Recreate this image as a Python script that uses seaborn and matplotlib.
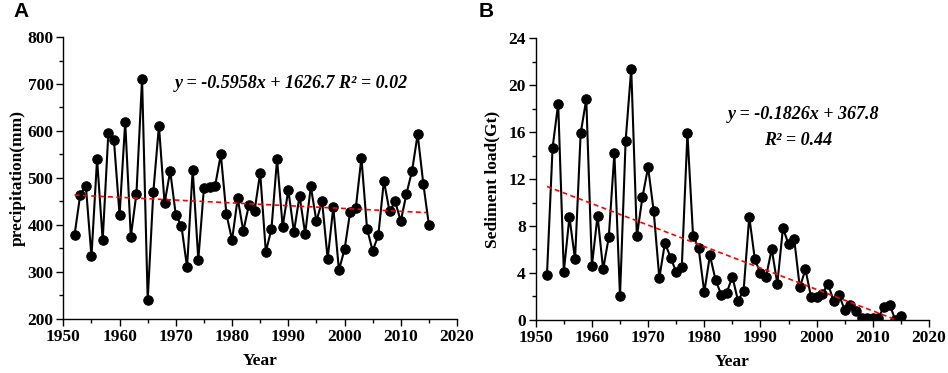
import numpy as np
import pandas as pd
import matplotlib
matplotlib.use("Agg")
import matplotlib.pyplot as plt
from matplotlib.ticker import MultipleLocator
import seaborn as sns

years = list(range(1952, 2016))
precipitation = [379, 464, 484, 333, 540, 368, 595, 580, 421, 619, 375, 467, 711, 240, 470, 611,
                 446, 515, 421, 398, 310, 518, 326, 479, 481, 484, 550, 423, 368, 457, 387, 443,
                 430, 511, 343, 391, 540, 396, 475, 385, 462, 381, 482, 408, 451, 328, 438, 304,
                 348, 428, 436, 543, 392, 345, 378, 494, 429, 450, 408, 466, 515, 593, 488, 400]
sediment = [3.80, 14.66, 18.41, 4.11, 8.77, 5.16, 15.9, 18.78, 4.6, 8.88, 4.31, 7.04, 14.2, 2.02,
            15.23, 21.4, 7.12, 10.47, 13.0, 9.25, 3.57, 6.58, 5.30, 4.11, 4.54, 15.9, 7.18, 6.1,
            2.35, 5.5, 3.43, 2.16, 2.33, 3.69, 1.64, 2.5, 8.8, 5.16, 3.97, 3.69, 6.04, 3.09, 7.83,
            6.44, 6.89, 2.78, 4.31, 1.96, 1.96, 2.19, 3.09, 1.64, 2.1, 0.85, 1.25, 0.77, 0.2, 0.2,
            0.2, 0.2, 1.13, 1.3, 0.0, 0.35]

# fitted trend lines (from annotated equations)
trend_a = {"slope": -0.5958, "intercept": 1626.7, "x": [1952, 2014.5]}
trend_b = {"slope": -0.1826, "intercept": 367.8, "x": [1952, 2014.2]}

eq_a = "y = -0.5958x + 1626.7 R² = 0.02"
eq_b1 = "y = -0.1826x + 367.8"
eq_b2 = "R² = 0.44"

sns.set_style("ticks")
serif = ["Liberation Serif", "DejaVu Serif"]
plt.rcParams["font.family"] = serif
plt.rcParams["text.color"] = "black"
plt.rcParams["axes.labelcolor"] = "black"
plt.rcParams["xtick.color"] = "black"
plt.rcParams["ytick.color"] = "black"
plt.rcParams["axes.edgecolor"] = "black"

fig = plt.figure(figsize=(9.48, 3.73), dpi=100)
axA = fig.add_axes([0.0668, 0.1448, 0.4153, 0.756])
axB = fig.add_axes([0.5651, 0.1421, 0.4149, 0.756])

dfA = pd.DataFrame({"Year": years, "val": precipitation})
dfB = pd.DataFrame({"Year": years, "val": sediment})

for ax, df, tr in [(axA, dfA, trend_a), (axB, dfB, trend_b)]:
    sns.lineplot(data=df, x="Year", y="val", ax=ax, color="black", linewidth=1.5,
                 marker="o", markersize=6.8, markeredgecolor="black", markerfacecolor="black",
                 zorder=3)
    tx = np.array(tr["x"])
    ty = tr["slope"] * tx + tr["intercept"]
    sns.lineplot(x=tx, y=ty, ax=ax, color="red", linewidth=1.2, linestyle=(0, (3, 2)), zorder=4)
    ax.set_xlim(1950, 2020)
    ax.xaxis.set_major_locator(MultipleLocator(10))
    ax.xaxis.set_minor_locator(MultipleLocator(5))
    for s in ["top", "right"]:
        ax.spines[s].set_visible(False)
    for s in ["left", "bottom"]:
        ax.spines[s].set_linewidth(1.0)
        ax.spines[s].set_color("black")
        ax.spines[s].set_zorder(5)
    ax.tick_params(which="major", direction="out", length=5, width=1.0, colors="black")
    ax.tick_params(which="minor", direction="out", length=3, width=1.0, colors="black")
    ax.tick_params(axis="both", which="major", pad=2)
    for lab in ax.get_xticklabels() + ax.get_yticklabels():
        lab.set_fontweight("bold")
        lab.set_fontsize(12.5)
        lab.set_family(serif)
    ax.set_xlabel("Year", fontsize=12.5, fontweight="bold", labelpad=6, color="black")

axA.set_ylim(200, 800)
axA.yaxis.set_minor_locator(MultipleLocator(50))
axA.set_yticks(np.arange(200, 801, 100))
axA.set_yticklabels([str(v) for v in range(200, 801, 100)], fontweight="bold", fontsize=12.5)
axA.set_ylabel("precipitation(mm)", fontsize=12.5, fontweight="bold", labelpad=1, color="black")

axB.set_ylim(0, 24)
axB.yaxis.set_minor_locator(MultipleLocator(2))
axB.set_yticks(np.arange(0, 25, 4))
axB.set_yticklabels([str(v) for v in range(0, 25, 4)], fontweight="bold", fontsize=12.5)
axB.set_ylabel("Sediment load(Gt)", fontsize=12.5, fontweight="bold", labelpad=6, color="black")

axA.text(1990.5, 702, eq_a, ha="center", va="center", fontsize=13,
         fontweight="bold", fontstyle="italic", color="black")
axB.text(1997.6, 17.45, eq_b1, ha="center", va="center", fontsize=13,
         fontweight="bold", fontstyle="italic", color="black")
axB.text(1996.7, 15.3, eq_b2, ha="center", va="center", fontsize=13,
         fontweight="bold", fontstyle="italic", color="black")

sans = ["Liberation Sans", "DejaVu Sans"]
fig.text(0.014, 0.968, "A", fontsize=15, fontweight="bold", family=sans, va="center", ha="left",
         color="black")
fig.text(0.505, 0.968, "B", fontsize=15, fontweight="bold", family=sans, va="center", ha="left",
         color="black")

fig.savefig("out.png", dpi=100)
